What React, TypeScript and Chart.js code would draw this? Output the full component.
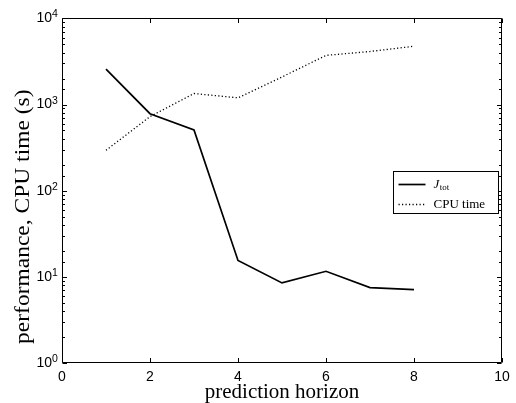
import React, { useEffect, useRef } from "react";
import { Chart, registerables } from "chart.js";

Chart.register(...registerables);

// ---- data ----
const horizon = [1, 2, 3, 4, 5, 6, 7, 8];
const jTot = [2580, 783, 508, 15.5, 8.5, 11.6, 7.5, 7.1];
const cpuTime = [294, 725, 1343, 1197, 2090, 3720, 4130, 4750];
const xTickStep = 2;
const xRange = [0, 10];
const yRange = [1, 10000];
const yTickBase = "10";
const xTitle = "prediction horizon";
const yTitle = "performance, CPU time (s)";
const legendNames = ["J", "CPU time"];
const legendSub = "tot";

const SANS = "'Liberation Sans', Arial, Helvetica, sans-serif";
const SERIF = "'Liberation Serif', 'Times New Roman', serif";

const isPow10 = (v: number) => {
  const lg = Math.log10(v);
  return Math.abs(lg - Math.round(lg)) < 1e-9;
};

const framePlugin = {
  id: "frame",
  afterDraw(chart: any) {
    const { ctx, chartArea: a, scales } = chart;
    const xs = scales.x;
    const ys = scales.y;
    ctx.save();
    ctx.strokeStyle = "#000";
    ctx.lineWidth = 1;
    const L = Math.round(a.left) + 0.5;
    const R = Math.round(a.right) - 0.5;
    const T = Math.round(a.top) + 0.5;
    const B = Math.round(a.bottom) - 0.5;
    ctx.beginPath();
    ctx.rect(L, T, R - L, B - T);
    ctx.stroke();
    const maj = 4.5;
    const min = 2.5;
    ctx.beginPath();
    for (const t of xs.ticks) {
      const px = Math.round(xs.getPixelForValue(t.value)) + 0.5;
      ctx.moveTo(px, B);
      ctx.lineTo(px, B - maj);
      ctx.moveTo(px, T);
      ctx.lineTo(px, T + maj);
    }
    for (const t of ys.ticks) {
      const len = isPow10(t.value) ? maj : min;
      const py = Math.round(ys.getPixelForValue(t.value)) + 0.5;
      ctx.moveTo(L, py);
      ctx.lineTo(L + len, py);
      ctx.moveTo(R, py);
      ctx.lineTo(R - len, py);
    }
    ctx.stroke();

    // exponents of y tick labels
    ctx.fillStyle = "#000";
    ctx.textAlign = "left";
    ctx.textBaseline = "alphabetic";
    ctx.font = `10.5px ${SANS}`;
    for (const t of ys.ticks) {
      if (!isPow10(t.value)) continue;
      const py = ys.getPixelForValue(t.value);
      ctx.fillText(String(Math.round(Math.log10(t.value))), a.left - 10, py - 1);
    }

    // y title
    ctx.save();
    ctx.translate(24, (a.top + a.bottom) / 2 + 26);
    ctx.rotate(-Math.PI / 2);
    ctx.scale(1, 0.85);
    ctx.textAlign = "center";
    ctx.textBaseline = "middle";
    ctx.font = `23.5px ${SERIF}`;
    ctx.fillText(yTitle, 0, 0);
    ctx.restore();

    // legend
    const bw = 105;
    const bh = 42;
    const bx = Math.round(a.right) - 4 - bw + 0.5;
    const by = Math.round(a.top) + 153 + 0.5;
    ctx.fillStyle = "#fff";
    ctx.fillRect(bx, by, bw, bh);
    ctx.strokeRect(bx, by, bw, bh);
    const rows = [by + 13, by + 33];
    const sx0 = bx + 5;
    const sx1 = bx + 32;
    const tx = bx + 40;
    chart.data.datasets.forEach((ds: any, i: number) => {
      ctx.save();
      ctx.strokeStyle = ds.borderColor;
      ctx.lineWidth = ds.borderWidth;
      ctx.setLineDash(ds.borderDash || []);
      ctx.beginPath();
      ctx.moveTo(sx0, rows[i]);
      ctx.lineTo(sx1, rows[i]);
      ctx.stroke();
      ctx.restore();
    });
    ctx.fillStyle = "#000";
    ctx.textBaseline = "middle";
    ctx.textAlign = "left";
    ctx.font = `italic 13px ${SERIF}`;
    ctx.fillText(legendNames[0], tx, rows[0]);
    const jw = ctx.measureText(legendNames[0]).width;
    ctx.font = `9px ${SERIF}`;
    ctx.fillText(legendSub, tx + jw + 0.5, rows[0] + 3);
    ctx.font = `13px ${SERIF}`;
    ctx.fillText(legendNames[1], tx, rows[1]);
    ctx.restore();
  },
};

export default function App() {
  const ref = useRef<HTMLCanvasElement>(null);
  useEffect(() => {
    document.body.style.margin = "0";
    const chart = new Chart(ref.current!, {
      type: "line",
      data: {
        datasets: [
          {
            label: "J_tot",
            data: horizon.map((x, i) => ({ x, y: jTot[i] })),
            borderColor: "#000",
            borderWidth: 1.7,
            pointRadius: 0,
            tension: 0,
          },
          {
            label: "CPU time",
            data: horizon.map((x, i) => ({ x, y: cpuTime[i] })),
            borderColor: "#000",
            borderWidth: 1.3,
            borderDash: [1.2, 2.3],
            pointRadius: 0,
            tension: 0,
          },
        ],
      },
      options: {
        animation: false,
        responsive: false,
        devicePixelRatio: 1,
        layout: { padding: { top: 16, right: 14, left: 0, bottom: 0 } },
        plugins: { legend: { display: false }, tooltip: { enabled: false } },
        scales: {
          x: {
            type: "linear",
            min: xRange[0],
            max: xRange[1],
            grid: { display: false, drawTicks: false },
            border: { display: false },
            ticks: {
              stepSize: xTickStep,
              color: "#000",
              padding: 6,
              font: { family: SANS, size: 14 },
              maxRotation: 0,
            },
            title: {
              display: true,
              text: xTitle,
              color: "#000",
              font: { family: SERIF, size: 21, lineHeight: 1 },
              padding: 0,
            },
            afterFit(s: any) {
              s.height = 40;
            },
          },
          y: {
            type: "logarithmic",
            min: yRange[0],
            max: yRange[1],
            grid: { display: false, drawTicks: false },
            border: { display: false },
            ticks: {
              autoSkip: false,
              color: "#000",
              padding: 10,
              font: { family: SANS, size: 14 },
              callback: (v: any) => (isPow10(Number(v)) ? yTickBase : ""),
            },
            afterFit(s: any) {
              s.width = 62;
            },
          },
        },
      },
      plugins: [framePlugin],
    } as any);
    return () => chart.destroy();
  }, []);
  return (
    <div style={{ position: "absolute", left: 0, top: 0, width: 516, height: 403, background: "#fff" }}>
      <canvas ref={ref} width={516} height={403} />
    </div>
  );
}
